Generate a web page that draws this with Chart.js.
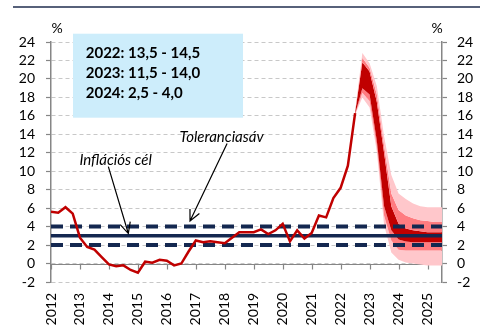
<!DOCTYPE html>
<html>
<head>
<meta charset="utf-8">
<script src="https://cdn.jsdelivr.net/npm/chart.js@4"></script>
<style>
  html, body { margin: 0; padding: 0; background: #fff; }
  #wrap { width: 480px; height: 336px; }
</style>
</head>
<body>
<div id="wrap"><canvas id="cpiChart" width="480" height="336"></canvas></div>
<script>
// --- Data ---
const xTicks = [2012, 2013, 2014, 2015, 2016, 2017, 2018, 2019, 2020, 2021, 2022, 2023, 2024, 2025];
const yTicks = [-2, 0, 2, 4, 6, 8, 10, 12, 14, 16, 18, 20, 22, 24];

// quarterly CPI, 2012 Q1 .. 2022 Q3
const actualStart = 2012;
const actualCpi = [
  5.6, 5.5, 6.1, 5.4,
  2.8, 1.8, 1.5, 0.7,
  -0.1, -0.3, -0.2, -0.7,
  -1.0, 0.2, 0.1, 0.4,
  0.3, -0.2, 0.0, 1.3,
  2.5, 2.3, 2.4, 2.3,
  2.2, 2.8, 3.4, 3.4,
  3.4, 3.7, 3.2, 3.6,
  4.3, 2.4, 3.6, 2.7,
  3.3, 5.2, 5.0, 7.1,
  8.2, 10.6, 16.3
];

// fan chart, 2022 Q3 .. 2025 Q3
const fanStart = 2022.5;
const fanHi90 = [16.5, 22.8, 21.7, 19.2, 13.8, 9.6, 7.6, 7.0, 6.5, 6.2, 6.1, 6.1, 6.1];
const fanHi60 = [16.4, 22.3, 21.2, 18.3, 12.8, 7.6, 5.8, 5.2, 4.9, 4.7, 4.6, 4.5, 4.5];
const fanHi30 = [16.35, 21.8, 20.8, 17.5, 12.0, 6.2, 4.3, 3.8, 3.6, 3.5, 3.4, 3.4, 3.4];
const fanLo30 = [16.2, 19.0, 18.3, 13.3, 6.2, 3.6, 2.6, 2.4, 2.3, 2.3, 2.3, 2.3, 2.3];
const fanLo60 = [16.15, 18.5, 17.6, 12.7, 5.2, 2.5, 1.5, 1.4, 1.4, 1.4, 1.4, 1.4, 1.4];
const fanLo90 = [16.1, 18.0, 16.9, 12.1, 4.2, 1.2, 0.4, 0.1, 0.0, -0.1, -0.2, -0.2, -0.2];

const inflationTarget = 3;
const toleranceBand = [2, 4];
const xRange = [2012, 2025.5];

const rangeLabels = ['2022: 13,5 - 14,5', '2023: 11,5 - 14,0', '2024: 2,5 - 4,0'];

// --- Helpers ---
const NAVY = '#142850';
const RED = '#C00000';
const MID = '#FF7C80';
const LIGHT = '#FFC7CB';
const AXIS = '#868686';
const FONT = 'Lato, "Open Sans", sans-serif';

function quarterPoints(start, values) {
  return values.map((v, i) => ({ x: start + i * 0.25, y: v }));
}
function flatLine(v) {
  return [{ x: xRange[0], y: v }, { x: xRange[1], y: v }];
}
function band(values, color, fill) {
  return {
    data: quarterPoints(fanStart, values),
    borderColor: 'rgba(0,0,0,0)',
    backgroundColor: color,
    borderWidth: 1,
    pointRadius: 0,
    fill: fill
  };
}
function drawArrow(ctx, x0, y0, x1, y1) {
  const ang = Math.atan2(y1 - y0, x1 - x0);
  const len = 12, spread = 0.45;
  ctx.beginPath();
  ctx.moveTo(x0, y0);
  ctx.lineTo(x1, y1);
  ctx.moveTo(x1 - len * Math.cos(ang - spread), y1 - len * Math.sin(ang - spread));
  ctx.lineTo(x1, y1);
  ctx.lineTo(x1 - len * Math.cos(ang + spread), y1 - len * Math.sin(ang + spread));
  ctx.stroke();
}

// --- Annotations plugin ---
const annotations = {
  id: 'annotations',
  beforeDatasetsDraw(chart) {
    const { ctx, chartArea: a, scales: { x, y } } = chart;
    ctx.save();
    // info box
    const bx0 = x.getPixelForValue(2012.76), bx1 = x.getPixelForValue(2018.63);
    const by0 = y.getPixelForValue(24.9), by1 = y.getPixelForValue(15.8);
    ctx.fillStyle = '#CDEDFB';
    ctx.fillRect(bx0, by0, bx1 - bx0, by1 - by0);

    // zero axis line with year ticks
    const y0 = Math.round(y.getPixelForValue(0)) + 0.5;
    ctx.strokeStyle = AXIS;
    ctx.lineWidth = 1.2;
    ctx.beginPath();
    ctx.moveTo(a.left, y0);
    ctx.lineTo(a.right, y0);
    xTicks.forEach(t => {
      const px = Math.round(x.getPixelForValue(t)) + 0.5;
      ctx.moveTo(px, y0);
      ctx.lineTo(px, y0 + 5);
    });
    ctx.stroke();
    ctx.restore();
  },
  afterDatasetsDraw(chart) {
    const { ctx, chartArea: a, scales: { x, y } } = chart;
    ctx.save();
    // box text
    ctx.fillStyle = '#000';
    ctx.font = 'bold 15px ' + FONT;
    ctx.textAlign = 'left';
    ctx.textBaseline = 'middle';
    const lineYs = [22.8, 20.65, 18.5];
    rangeLabels.forEach((t, i) => {
      ctx.fillText(t, x.getPixelForValue(2013.2), y.getPixelForValue(lineYs[i]));
    });

    // italic labels
    ctx.font = 'italic 15px ' + FONT;
    ctx.textAlign = 'center';
    ctx.fillText('Toleranciasáv', x.getPixelForValue(2017.89), y.getPixelForValue(13.7));
    ctx.fillText('Inflációs cél', x.getPixelForValue(2014.23), y.getPixelForValue(11.2));

    // arrows
    ctx.strokeStyle = '#000';
    ctx.lineWidth = 1.2;
    drawArrow(ctx, x.getPixelForValue(2013.98), y.getPixelForValue(10.5),
                   x.getPixelForValue(2014.67), y.getPixelForValue(3.25));
    drawArrow(ctx, x.getPixelForValue(2018.08), y.getPixelForValue(13.0),
                   x.getPixelForValue(2016.8), y.getPixelForValue(4.6));

    // % units
    ctx.font = '14px ' + FONT;
    ctx.fillText('%', a.left + 6, a.top - 14);
    ctx.fillText('%', a.right - 5, a.top - 14);

    // title rule
    ctx.strokeStyle = '#1F2D4E';
    ctx.lineWidth = 1.5;
    ctx.beginPath();
    ctx.moveTo(13, 7);
    ctx.lineTo(480, 7);
    ctx.stroke();
    ctx.restore();
  }
};

// --- Chart ---
const ctx = document.getElementById('cpiChart').getContext('2d');
new Chart(ctx, {
  type: 'line',
  data: {
    datasets: [
      {
        data: quarterPoints(actualStart, actualCpi),
        borderColor: RED,
        borderWidth: 2.5,
        pointRadius: 0,
        fill: false
      },
      {
        data: flatLine(inflationTarget),
        borderColor: NAVY,
        borderWidth: 3.5,
        pointRadius: 0,
        fill: false
      },
      {
        data: flatLine(toleranceBand[1]),
        borderColor: NAVY,
        borderWidth: 4,
        borderDash: [12, 7],
        pointRadius: 0,
        fill: false
      },
      {
        data: flatLine(toleranceBand[0]),
        borderColor: NAVY,
        borderWidth: 4,
        borderDash: [12, 7],
        pointRadius: 0,
        fill: false
      },
      band(fanHi90, LIGHT, '+1'),
      band(fanHi60, MID, '+1'),
      band(fanHi30, RED, '+1'),
      band(fanLo30, MID, '+1'),
      band(fanLo60, LIGHT, '+1'),
      band(fanLo90, LIGHT, false)
    ]
  },
  options: {
    responsive: false,
    animation: false,
    devicePixelRatio: 1,
    layout: { padding: { top: 42, left: 0, right: 0, bottom: 0 } },
    plugins: {
      legend: { display: false },
      tooltip: { enabled: false }
    },
    elements: { line: { tension: 0 } },
    scales: {
      x: {
        type: 'linear',
        min: xRange[0],
        max: xRange[1],
        position: 'bottom',
        grid: { display: false, drawTicks: false },
        border: { display: false },
        afterBuildTicks: s => { s.ticks = xTicks.map(v => ({ value: v })); },
        afterFit: s => { s.height = 54; },
        ticks: {
          autoSkip: false,
          minRotation: 90,
          maxRotation: 90,
          padding: 11,
          color: '#000',
          font: { family: FONT, size: 14 },
          callback: v => String(v)
        }
      },
      y: {
        type: 'linear',
        min: -2,
        max: 24,
        position: 'left',
        afterBuildTicks: s => { s.ticks = yTicks.map(v => ({ value: v })); },
        afterFit: s => { s.width = 51; },
        grid: {
          color: '#C8C8C8',
          lineWidth: 1,
          drawTicks: true,
          tickLength: 5,
          tickColor: AXIS,
          tickWidth: 1.2
        },
        border: { display: true, color: AXIS, width: 1.5, dash: [4, 3] },
        ticks: {
          autoSkip: false,
          padding: 11,
          color: '#000',
          font: { family: FONT, size: 14 }
        }
      },
      y2: {
        type: 'linear',
        min: -2,
        max: 24,
        position: 'right',
        afterBuildTicks: s => { s.ticks = yTicks.map(v => ({ value: v })); },
        afterFit: s => { s.width = 38; },
        grid: {
          drawOnChartArea: false,
          drawTicks: true,
          tickLength: 5,
          tickColor: AXIS,
          tickWidth: 1.2
        },
        border: { display: true, color: AXIS, width: 1.5 },
        ticks: {
          autoSkip: false,
          padding: 10,
          color: '#000',
          font: { family: FONT, size: 14 }
        }
      }
    }
  },
  plugins: [annotations]
});
</script>
</body>
</html>
